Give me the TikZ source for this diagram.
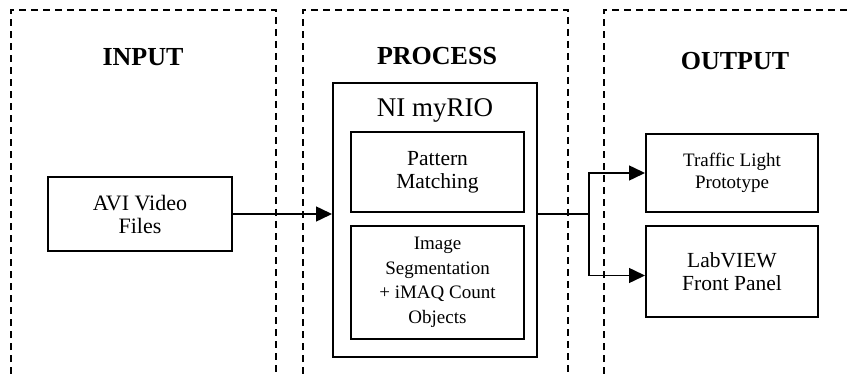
\documentclass[tikz,border=0pt]{standalone}
\usepackage{fontspec}
\setmainfont{Liberation Serif}
\usetikzlibrary{positioning,arrows.meta}

\tikzset{
  panel/.style={draw, dashed, line width=1.3pt, dash pattern=on 7pt off 5pt},
  heading/.style={font=\fontsize{26}{28}\selectfont\bfseries},
  stagebox/.style={draw, line width=2pt, align=center, inner sep=2pt},
  flow/.style={line width=1.5pt},
  flowarrow/.style={flow, -{Triangle[length=16pt,width=15pt]}}
}

\begin{document}
\begin{tikzpicture}[x=1pt, y=-1pt]
    \useasboundingbox (0,0) rectangle (851,374);

    % dashed stage panels, open at the bottom
    \draw[panel] (11,374) |- (276,10) -- (276,374);
    \draw[panel] (303,374) |- (568,10) -- (568,374);
    \draw[panel] (604,374) |- (851,10);

    \node[heading] (inTitle) at (143,57) {INPUT};
    \node[heading] (procTitle) at (437,56) {PROCESS};
    \node[heading] (outTitle) at (735,61) {OUTPUT};

    % input
    \node[stagebox, minimum width=184pt, minimum height=73pt,
      font=\fontsize{22}{23}\selectfont] (avi) at (140,214)
      {AVI Video\\Files};

    % process
    \node[stagebox, minimum width=204pt, minimum height=274pt] (rio) at (435,220) {};
    \node[font=\fontsize{27}{28}\selectfont] (rioLabel) at (435,110) {NI myRIO};
    \node[stagebox, minimum width=173pt, minimum height=80pt,
      font=\fontsize{21.5}{23}\selectfont] (pattern) at (437.5,172)
      {Pattern\\Matching};
    \node[stagebox, minimum width=173pt, minimum height=113pt,
      font=\fontsize{19}{24.5}\selectfont] (segment) at (437.5,282.5)
      {Image\\Segmentation\\+ iMAQ Count\\Objects};

    % output
    \node[stagebox, minimum width=172pt, minimum height=78pt,
      font=\fontsize{19}{22}\selectfont] (traffic) at (732,173)
      {Traffic Light\\Prototype};
    \node[stagebox, minimum width=172pt, minimum height=91pt,
      font=\fontsize{21.5}{23}\selectfont] (labview) at (732,271.5)
      {LabVIEW\\Front Panel};

    % connectors
    \coordinate (split) at (589,214);
    \draw[flowarrow] (avi.east) -- (avi.east -| rio.west);
    \draw[flow] (split -| rio.east) -- (split);
    \draw[flowarrow] (split) |- (traffic.west);
    \draw[flowarrow] (split) |- ([yshift=-4pt]labview.west);
\end{tikzpicture}
\end{document}
